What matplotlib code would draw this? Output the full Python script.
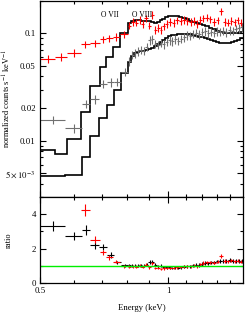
import matplotlib
matplotlib.use('Agg')
import matplotlib.pyplot as plt
from matplotlib.ticker import FixedLocator, NullFormatter, FixedFormatter
import numpy as np

plt.rcParams['font.family'] = ['Liberation Serif', 'DejaVu Serif']
plt.rcParams['mathtext.fontset'] = 'stix'
plt.rcParams['font.size'] = 6.3

# red spectrum: bin edges (keV), data, model
red_edges = [0.5, 0.542, 0.578, 0.624, 0.654, 0.691, 0.713, 0.741, 0.772, 0.803,
             0.82, 0.835, 0.85, 0.865, 0.88, 0.895, 0.91, 0.925, 0.94, 0.955, 0.97,
             0.985, 1.0, 1.02, 1.04, 1.06, 1.08, 1.10, 1.12, 1.14, 1.16, 1.18, 1.20,
             1.22, 1.245, 1.27, 1.295, 1.32, 1.345, 1.37, 1.395, 1.42, 1.445, 1.47, 1.495]
red_data = [0.0577, 0.0605, 0.066, 0.079, 0.081, 0.088, 0.0898, 0.093, 0.098,
            0.118, 0.128, 0.126, 0.133, 0.122, 0.138, 0.118, 0.148, 0.108, 0.112,
            0.108, 0.116, 0.122, 0.128, 0.125, 0.132, 0.130, 0.134, 0.131, 0.128,
            0.130, 0.122, 0.133, 0.138, 0.140, 0.135, 0.128, 0.132, 0.160, 0.128,
            0.126, 0.131, 0.127, 0.132, 0.126]
red_model = [0.00819, 0.00747, 0.01038, 0.01862, 0.0323, 0.0489, 0.0605, 0.075, 0.1,
             0.125, 0.131, 0.132, 0.132, 0.131, 0.131, 0.130, 0.128, 0.126, 0.127,
             0.132, 0.137, 0.142, 0.145, 0.146, 0.144, 0.141, 0.138, 0.135, 0.131,
             0.128, 0.125, 0.122, 0.119, 0.116, 0.113, 0.109, 0.106, 0.103, 0.101,
             0.100, 0.100, 0.1005, 0.101, 0.102]
red_err = 0.08

# grey spectrum
grey_edges = [0.5, 0.572, 0.628, 0.657, 0.687, 0.720, 0.745, 0.776, 0.804,
              0.817, 0.83, 0.843, 0.856, 0.87, 0.884, 0.898, 0.912, 0.926, 0.94,
              0.955, 0.97, 0.985, 1.0, 1.016, 1.032, 1.048, 1.065, 1.082, 1.10,
              1.118, 1.136, 1.155, 1.174, 1.193, 1.212, 1.232, 1.252, 1.273, 1.294,
              1.316, 1.338, 1.36, 1.383, 1.406, 1.43, 1.454, 1.478, 1.5]
grey_data = [0.0156, 0.01304, 0.022, 0.0243, 0.0337, 0.035, 0.0355, 0.044,
             0.055, 0.063, 0.065, 0.068, 0.070, 0.069, 0.075, 0.086, 0.088, 0.080,
             0.078, 0.082, 0.079, 0.083, 0.086, 0.084, 0.088, 0.085, 0.089, 0.092,
             0.096, 0.095, 0.099, 0.101, 0.098, 0.102, 0.104, 0.100, 0.103, 0.101,
             0.104, 0.103, 0.105, 0.102, 0.107, 0.106, 0.110, 0.111, 0.114]
grey_model = [0.00472, 0.00479, 0.0071, 0.01107, 0.01617, 0.0215, 0.0296, 0.0425,
              0.054, 0.062, 0.065, 0.067, 0.068, 0.069, 0.0705, 0.0715, 0.073, 0.0755,
              0.079, 0.0825, 0.086, 0.090, 0.0935, 0.0955, 0.097, 0.0978, 0.098, 0.098,
              0.098, 0.0975, 0.0965, 0.095, 0.093, 0.0915, 0.090, 0.088, 0.086, 0.0845,
              0.083, 0.0818, 0.081, 0.0805, 0.081, 0.0825, 0.0845, 0.087, 0.090]
grey_err = 0.09


def centers(edges):
    e = np.array(edges)
    return (e[:-1] + e[1:]) / 2, (e[1:] - e[:-1]) / 2


fig = plt.figure(figsize=(2.45, 3.13), dpi=100)
ax1 = fig.add_axes([0.163, 0.3706, 0.829, 0.6264])
ax2 = fig.add_axes([0.163, 0.0958, 0.829, 0.2748], sharex=ax1)

for edges, data, model, err, col, rcol in [
        (grey_edges, grey_data, grey_model, grey_err, '#707070', 'black'),
        (red_edges, red_data, red_model, red_err, 'red', 'red')]:
    xc, xw = centers(edges)
    d = np.array(data)
    m = np.array(model)
    ax1.errorbar(xc, d, xerr=xw, yerr=d * err, fmt='none', ecolor=col, elinewidth=0.8)
    ax1.stairs(m, edges, color='black', lw=1.2, baseline=None)
    ax2.errorbar(xc, d / m, xerr=xw, yerr=d * err / m, fmt='none', ecolor=rcol,
                 elinewidth=0.8)

ax2.axhline(1, color='#00ee00', lw=1.0)

ax1.text(0.729, 0.148, 'O VII', fontsize=5.5, ha='center', va='center')
ax1.text(0.871, 0.148, 'O VIII', fontsize=5.5, ha='center', va='center')

ax1.set_xscale('log')
ax1.set_yscale('log')
ax1.set_xlim(0.5, 1.5)
ax1.set_ylim(0.003, 0.2)
ax2.set_ylim(0, 5)

ax1.yaxis.set_major_locator(FixedLocator([0.005, 0.01, 0.02, 0.05, 0.1]))
ax1.yaxis.set_major_formatter(FixedFormatter([r'$5\times10^{-3}$', '0.01', '0.02', '0.05', '0.1']))
ax1.yaxis.set_minor_locator(FixedLocator([0.003, 0.004, 0.006, 0.007, 0.008, 0.009,
                                          0.03, 0.04, 0.06, 0.07, 0.08, 0.09, 0.2]))
ax1.yaxis.set_minor_formatter(NullFormatter())

ax2.xaxis.set_major_locator(FixedLocator([0.5, 1.0]))
ax2.xaxis.set_major_formatter(FixedFormatter(['0.5', '1']))
ax2.xaxis.set_minor_locator(FixedLocator([0.6, 0.7, 0.8, 0.9, 1.1, 1.2, 1.3, 1.4]))
ax2.xaxis.set_minor_formatter(NullFormatter())
ax2.yaxis.set_major_locator(FixedLocator([0, 2, 4]))
ax2.yaxis.set_minor_locator(FixedLocator([1, 3, 5]))
plt.setp(ax1.get_xticklabels(), visible=False)

for ax in (ax1, ax2):
    ax.tick_params(which='both', direction='in', top=True, right=True, width=0.8)
    ax.tick_params(which='major', length=4, pad=3)
    ax.tick_params(which='minor', length=2.5)
    for s in ax.spines.values():
        s.set_linewidth(0.9)

ax1.set_ylabel(r'normalized counts s$^{-1}$ keV$^{-1}$', fontsize=6)
ax2.set_ylabel('ratio', fontsize=6)
ax2.set_xlabel('Energy (keV)', labelpad=6)
ax1.yaxis.set_label_coords(-0.135, 0.5)
ax2.yaxis.set_label_coords(-0.135, 0.5)

fig.savefig('out.png', dpi=100)
